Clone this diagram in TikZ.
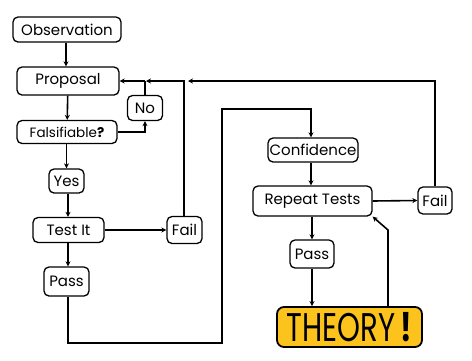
\documentclass[tikz,border=0pt]{standalone}
\usepackage{fontspec}
\usepackage{graphicx}
\setmainfont{Poppins}
\usetikzlibrary{arrows.meta}
\definecolor{theoryyellow}{HTML}{FBC31C}
\tikzset{
  box/.style={draw=black, line width=1.3pt, rounded corners=5pt, fill=white, inner sep=0pt, align=center, font=\fontsize{15}{17}\selectfont},
  conn/.style={line width=1.6pt, -{Stealth[length=5pt,width=5pt]}},
  plain/.style={line width=1.6pt},
}
\begin{document}
\begin{tikzpicture}[x=1pt,y=-1pt]
\useasboundingbox (0,0) rectangle (472,360);
\fill[white] (0,0) rectangle (472,360);
% left column
\node[box, minimum width=108pt, minimum height=25pt] (obs) at (67,29.5) {Observation};
\node[box, minimum width=102pt, minimum height=28pt] (prop) at (68,81) {Proposal};
\node[box, minimum width=100pt, minimum height=23pt, font=\fontsize{13.5}{15}\selectfont] (fals) at (67,132) {Falsifiable\textbf{?}};
\node[box, minimum width=35pt, minimum height=25pt] (no) at (145,108) {No};
\node[box, minimum width=35pt, minimum height=24pt] (yes) at (66.5,181) {Yes};
\node[box, minimum width=71pt, minimum height=25pt] (test) at (68.5,230) {Test It};
\node[box, minimum width=35pt, minimum height=27pt] (fail1) at (184.5,230) {Fail};
\node[box, minimum width=45pt, minimum height=29pt] (pass1) at (66.5,281.5) {Pass};
% right column
\node[box, minimum width=90pt, minimum height=24pt] (conf) at (313,150) {Confidence};
\node[box, minimum width=119pt, minimum height=30pt] (rep) at (312.5,201) {Repeat Tests};
\node[box, minimum width=34pt, minimum height=27pt] (fail2) at (435,200.5) {Fail};
\node[box, minimum width=44pt, minimum height=28pt] (pass2) at (312,254) {Pass};
\node[box, fill=theoryyellow, line width=1.8pt, rounded corners=7pt, minimum width=145pt, minimum height=40pt, font=\fontsize{40}{40}\selectfont] (theory) at (349.5,327) {\scalebox{0.73}[1]{THEORY\,\textbf{!}}};
% coordinates
\coordinate (j1) at (145,81);
\coordinate (j2) at (184,81);
\coordinate (c1) at (68,343);
\coordinate (c2) at (222,343);
\coordinate (c3) at (222,109);
\coordinate (c4) at (311,109);
\coordinate (c5) at (388,230);
% connectors
\draw[conn] (obs.south -| 66,0) -- (prop.north -| 66,0);
\draw[conn] (prop) -- (fals);
\draw[conn] (fals.east) -| (no.south);
\draw[plain] (no.north) -- (j1);
\draw[conn] (j1) -- (prop.east);
\draw[conn] (fail1.north -| j2) -- (j2) -- (146,81);
\draw[conn] (fail2.north) |- (188,81);
\draw[conn] (fals.south -| yes) -- (yes.north);
\draw[conn] (yes.south -| 68,0) -- (test.north -| 68,0);
\draw[conn] (test.east) -- (fail1.west);
\draw[conn] (test.south -| 68,0) -- (pass1.north -| 68,0);
\draw[conn] (pass1.south -| c1) -- (c1) -- (c2) -- (c3) -- (c4) -- (conf.north -| c4);
\draw[conn] (conf.south -| 311,0) -- (rep.north -| 311,0);
\draw[conn] (rep.east) -- (fail2.west);
\draw[conn] (rep.south -| pass2) -- (pass2.north);
\draw[conn] (pass2.south) -- (theory.north -| pass2);
\draw[conn] (theory.north -| c5) -- (c5) -- (rep.south east);
\end{tikzpicture}
\end{document}
